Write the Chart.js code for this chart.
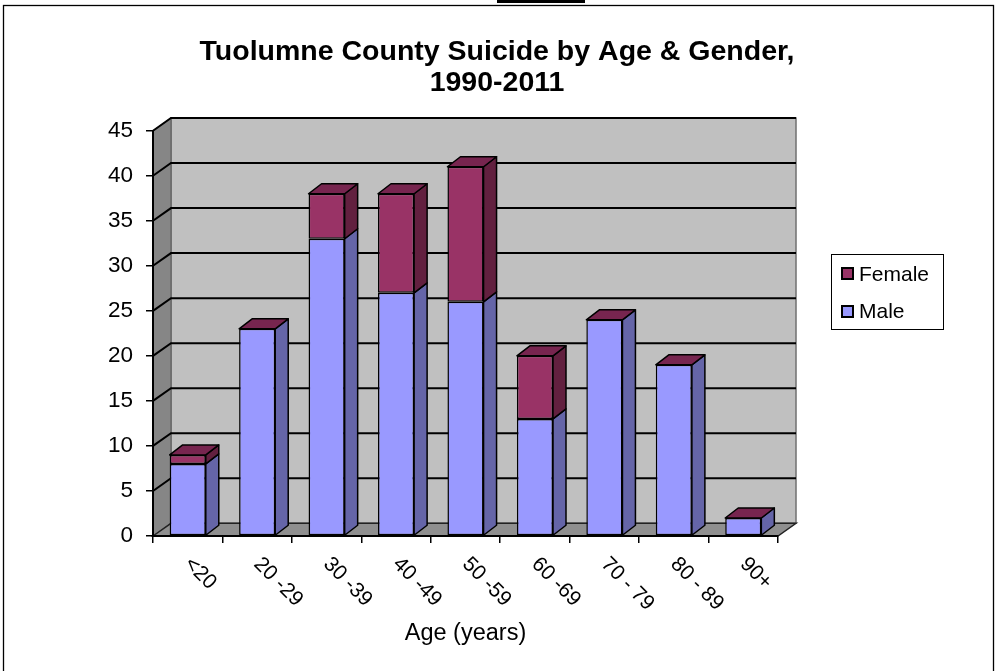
<!DOCTYPE html>
<html><head><meta charset="utf-8">
<script src="https://cdn.jsdelivr.net/npm/chart.js@4.4.1/dist/chart.umd.min.js"></script>
<style>html,body{margin:0;padding:0;background:#fff;overflow:hidden}canvas{display:block}</style>
</head><body>
<canvas id="c" width="995" height="671"></canvas>
<script>
const categories = ['<20', '20 -29', '30 -39', '40 -49', '50 -59', '60 -69', '70 - 79', '80 - 89', '90+'];
const maleValues = [8, 23, 33, 27, 26, 13, 24, 19, 2];
const femaleValues = [1, 0, 5, 11, 15, 7, 0, 0, 0];
const yMin = 0, yMax = 45, yStep = 5;
const titleLines = ['Tuolumne County Suicide by Age & Gender,', '1990-2011'];
const xAxisTitle = 'Age (years)';
const seriesNames = ['Male', 'Female'];

const FONT = "'Liberation Sans', Arial, sans-serif";
const COLORS = {
  maleFront: '#9999FF', maleSide: '#6565A8',
  femaleFront: '#993366', femaleSide: '#62203F', femaleTop: '#77254F',
  wall: '#C0C0C0', sideWall: '#868686', floor: '#8F8F8F'
};
const WALL_DX = 18, WALL_DY = 12.7, BAR_DX = 13, BAR_DY = 10;

function poly(ctx, pts, fill, stroke, lw) {
  ctx.beginPath();
  ctx.moveTo(pts[0][0], pts[0][1]);
  for (let i = 1; i < pts.length; i++) ctx.lineTo(pts[i][0], pts[i][1]);
  ctx.closePath();
  if (fill) { ctx.fillStyle = fill; ctx.fill(); }
  if (stroke) { ctx.strokeStyle = stroke; ctx.lineWidth = lw || 1; ctx.stroke(); }
}

const threeD = {
  id: 'threeD',
  beforeDraw(chart) {
    const {ctx, chartArea: ca, scales: {x, y}} = chart;
    ctx.save();
    ctx.fillStyle = '#fff';
    ctx.fillRect(0, 0, chart.width, chart.height);
    // outer frame
    ctx.strokeStyle = '#000'; ctx.lineWidth = 1.3;
    ctx.strokeRect(3.5, 5.5, 990, 720);
    ctx.fillStyle = '#000';
    ctx.fillRect(497, 0, 88, 3);

    const y0 = y.getPixelForValue(yMin), yT = y.getPixelForValue(yMax);
    const L = ca.left, R = ca.right;
    // back wall
    poly(ctx, [[L + WALL_DX, yT - WALL_DY], [R + WALL_DX, yT - WALL_DY], [R + WALL_DX, y0 - WALL_DY], [L + WALL_DX, y0 - WALL_DY]], COLORS.wall, '#707070', 1.5);
    // left side wall
    poly(ctx, [[L, yT], [L + WALL_DX, yT - WALL_DY], [L + WALL_DX, y0 - WALL_DY], [L, y0]], COLORS.sideWall, '#5a5a5a', 1);
    // floor
    poly(ctx, [[L, y0], [L + WALL_DX, y0 - WALL_DY], [R + WALL_DX, y0 - WALL_DY], [R, y0]], COLORS.floor, '#222', 1.5);
    // gridlines
    ctx.strokeStyle = '#000'; ctx.lineWidth = 2;
    y.ticks.forEach(t => {
      if (t.value === yMin) return;
      const py = y.getPixelForValue(t.value);
      ctx.beginPath();
      ctx.moveTo(L, py);
      ctx.lineTo(L + WALL_DX, py - WALL_DY);
      ctx.lineTo(R + WALL_DX, py - WALL_DY);
      ctx.stroke();
    });
    ctx.restore();
  },
  afterDatasetsDraw(chart) {
    const {ctx} = chart;
    const metaM = chart.getDatasetMeta(0), metaF = chart.getDatasetMeta(1);
    ctx.save();
    ctx.lineJoin = 'round';
    for (let i = 0; i < categories.length; i++) {
      [[metaM, COLORS.maleSide], [metaF, COLORS.femaleSide]].forEach(([meta, side]) => {
        const el = meta.data[i];
        const p = el.getProps(['x', 'y', 'base', 'width'], true);
        const right = p.x + p.width / 2;
        const top = Math.min(p.y, p.base), bot = Math.max(p.y, p.base);
        if (bot - top > 0.5) {
          poly(ctx, [[right, top], [right + BAR_DX, top - BAR_DY], [right + BAR_DX, bot - BAR_DY], [right, bot]], side, '#000', 1.5);
        }
      });
      const el = metaF.data[i];
      const p = el.getProps(['x', 'y', 'base', 'width'], true);
      const left = p.x - p.width / 2, right = p.x + p.width / 2;
      const top = Math.min(p.y, p.base);
      poly(ctx, [[left, top], [left + BAR_DX, top - BAR_DY], [right + BAR_DX, top - BAR_DY], [right, top]], COLORS.femaleTop, '#000', 1.5);
    }
    ctx.restore();
  },
  afterDraw(chart) {
    const {ctx, scales: {x}} = chart;
    ctx.save();
    ctx.fillStyle = '#000';
    // title
    ctx.font = 'bold 28.5px ' + FONT;
    ctx.textAlign = 'center';
    ctx.textBaseline = 'alphabetic';
    ctx.fillText(titleLines[0], 497, 59.5);
    ctx.fillText(titleLines[1], 497, 90.5);
    // category labels (rotated)
    ctx.font = '21px ' + FONT;
    ctx.textAlign = 'left';
    ctx.textBaseline = 'middle';
    categories.forEach((c, i) => {
      const px = x.getPixelForValue(i);
      ctx.save();
      ctx.translate(px, 561);
      ctx.rotate(Math.PI / 4);
      ctx.fillText(c, 0, 0);
      ctx.restore();
    });
    // legend
    ctx.strokeStyle = '#000'; ctx.lineWidth = 1;
    ctx.strokeRect(831.5, 254.5, 112, 75);
    const items = [[seriesNames[1], COLORS.femaleFront, 268, 280.5], [seriesNames[0], COLORS.maleFront, 306, 318]];
    ctx.font = '21px ' + FONT;
    ctx.textBaseline = 'alphabetic';
    items.forEach(([name, col, sy, by]) => {
      ctx.fillStyle = col;
      ctx.fillRect(842, sy, 11, 11);
      ctx.lineWidth = 2; ctx.strokeStyle = '#000';
      ctx.strokeRect(842, sy, 11, 11);
      ctx.fillStyle = '#000';
      ctx.fillText(name, 859, by);
    });
    ctx.restore();
  }
};

new Chart(document.getElementById('c'), {
  type: 'bar',
  data: {
    labels: categories,
    datasets: [
      {label: seriesNames[0], data: maleValues, backgroundColor: COLORS.maleFront, borderColor: '#000', borderWidth: 1.5, borderSkipped: false},
      {label: seriesNames[1], data: femaleValues, backgroundColor: COLORS.femaleFront, borderColor: '#000', borderWidth: 1.5, borderSkipped: false}
    ]
  },
  options: {
    responsive: false,
    animation: false,
    devicePixelRatio: 1,
    layout: {padding: {left: 0, right: 217, top: 130.7, bottom: 0}},
    datasets: {bar: {barPercentage: 0.52, categoryPercentage: 1}},
    plugins: {legend: {display: false}, title: {display: false}, tooltip: {enabled: false}},
    scales: {
      x: {
        stacked: true,
        afterFit: s => { s.height = 135; },
        grid: {display: true, drawOnChartArea: false, drawTicks: true, tickLength: 7, color: '#000', lineWidth: 1.5, offset: true},
        border: {display: true, color: '#000', width: 2},
        ticks: {display: false},
        title: {display: true, text: xAxisTitle, color: '#000', font: {family: FONT, size: 23.5}, padding: {top: 0, bottom: 23.4}}
      },
      y: {
        stacked: true,
        min: yMin, max: yMax,
        afterFit: s => { s.width = 153; },
        grid: {display: true, drawOnChartArea: false, drawTicks: true, tickLength: 7, color: '#000', lineWidth: 1.5},
        border: {display: true, color: '#000', width: 2},
        ticks: {stepSize: yStep, color: '#000', padding: 13, font: {family: FONT, size: 22.5}}
      }
    }
  },
  plugins: [threeD]
});
</script>
</body></html>
